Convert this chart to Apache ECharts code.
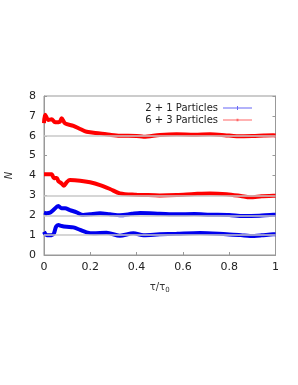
<!DOCTYPE html>
<html><head><meta charset="utf-8">
<script src="https://cdn.jsdelivr.net/npm/echarts@6/dist/echarts.min.js"></script>
<style>html,body{margin:0;padding:0;background:#fff}#c{width:298px;height:385px}</style>
</head><body><div id="c"></div>
<script>
const xTicks = [0, 0.2, 0.4, 0.6, 0.8, 1];
const yTicks = [0, 1, 2, 3, 4, 5, 6, 7, 8];
const refLevels = [1, 2, 3, 6];

const red6X = [0, 0.005, 0.019, 0.033, 0.048, 0.069, 0.076, 0.091, 0.127, 0.156, 0.184, 0.242, 0.285, 0.328, 0.4, 0.43, 0.5, 0.573, 0.65, 0.717, 0.78, 0.832, 0.9, 0.95, 0.99, 1];
const red6Y = [6.64, 7.06, 6.79, 6.83, 6.68, 6.71, 6.88, 6.62, 6.5, 6.34, 6.2, 6.12, 6.05, 6.0, 5.99, 5.95, 6.04, 6.08, 6.05, 6.07, 6.03, 5.98, 5.99, 6.01, 6.02, 6.01];

const red3X = [0, 0.033, 0.043, 0.055, 0.062, 0.076, 0.086, 0.098, 0.112, 0.156, 0.199, 0.242, 0.285, 0.328, 0.4, 0.43, 0.5, 0.573, 0.65, 0.717, 0.789, 0.85, 0.89, 0.94, 0.99, 1];
const red3Y = [4.06, 4.06, 3.86, 3.88, 3.72, 3.6, 3.49, 3.66, 3.77, 3.74, 3.66, 3.52, 3.32, 3.1, 3.03, 3.02, 3.0, 3.02, 3.07, 3.1, 3.06, 2.97, 2.9, 2.95, 2.98, 2.98];

const blue2X = [0, 0.012, 0.026, 0.04, 0.062, 0.076, 0.091, 0.112, 0.141, 0.169, 0.199, 0.242, 0.285, 0.328, 0.38, 0.415, 0.5, 0.573, 0.65, 0.717, 0.8, 0.861, 0.93, 0.99, 1];
const blue2Y = [2.13, 2.1, 2.13, 2.26, 2.46, 2.35, 2.35, 2.26, 2.15, 2.01, 2.05, 2.1, 2.05, 2.0, 2.07, 2.11, 2.08, 2.05, 2.06, 2.03, 2.01, 1.96, 1.98, 2.03, 2.03];

const blue1X = [0, 0.004, 0.012, 0.033, 0.043, 0.052, 0.062, 0.076, 0.098, 0.127, 0.156, 0.184, 0.213, 0.27, 0.328, 0.386, 0.43, 0.5, 0.573, 0.674, 0.789, 0.85, 0.89, 0.94, 0.99, 1];
const blue1Y = [1.17, 1.09, 1.0, 1.0, 1.09, 1.42, 1.51, 1.46, 1.42, 1.39, 1.26, 1.14, 1.09, 1.12, 0.97, 1.09, 1.0, 1.04, 1.07, 1.11, 1.04, 1.0, 0.96, 0.99, 1.04, 1.04];

const RED = '#ff0000', BLUE = '#0000ee';
const zip = (xs, ys) => xs.map((x, i) => [x, ys[i]]);

function lineSeries(name, color, xs, ys, extra) {
  return Object.assign({
    name: name, type: 'line', data: zip(xs, ys), showSymbol: false,
    symbol: 'circle', symbolSize: 3, smooth: 0.3,
    lineStyle: { color: color, width: 4 }, itemStyle: { color: color },
    z: 3
  }, extra || {});
}

const chart = echarts.init(document.getElementById('c'), null, { renderer: 'canvas' });
chart.setOption({
  animation: false,
  backgroundColor: '#fff',
  textStyle: { fontFamily: 'DejaVu Sans' },
  grid: { left: 44, right: 22.5, top: 96, bottom: 130, show: true, borderColor: '#999', borderWidth: 1, containLabel: false, outerBoundsMode: 'none' },
  legend: {
    right: 41, top: 98, orient: 'vertical', align: 'right', itemGap: 2,
    itemWidth: 29, itemHeight: 8,
    textStyle: { fontSize: 10, color: '#222', fontFamily: 'DejaVu Sans' },
    data: [
      { name: '2 + 1 Particles', icon: 'path://M0,4.6 L30,4.6 L30,5.4 L0,5.4 Z M14.5,3 L15.5,3 L15.5,7 L14.5,7 Z', itemStyle: { color: BLUE, opacity: 0.6 } },
      { name: '6 + 3 Particles', icon: 'path://M0,4.6 L30,4.6 L30,5.4 L0,5.4 Z M14,3.8 L16,3.8 L16,6.2 L14,6.2 Z', itemStyle: { color: RED, opacity: 0.6 } }
    ]
  },
  xAxis: {
    type: 'value', min: 0, max: 1, interval: 0.2,
    name: 'τ/τ{s|0}', nameLocation: 'middle', nameGap: 26,
    nameTextStyle: { fontSize: 10, color: '#333', rich: { s: { fontSize: 7, verticalAlign: 'bottom', padding: [6, 0, 0, 0], color: '#333' } } },
    axisLine: { lineStyle: { color: '#999' } },
    axisTick: { inside: true, length: 3, lineStyle: { color: '#999' } },
    axisLabel: { fontSize: 11, color: '#222', margin: 7, formatter: v => String(+v.toFixed(1)) },
    splitLine: { show: false }
  },
  yAxis: [{
    type: 'value', min: 0, max: 8, interval: 1,
    name: 'N', nameLocation: 'middle', nameGap: 30,
    nameTextStyle: { fontSize: 10, color: '#333', fontStyle: 'italic' },
    axisLine: { show: true, lineStyle: { color: '#999' } },
    axisTick: { show: true, inside: true, length: 3, lineStyle: { color: '#999' } },
    axisLabel: { fontSize: 11, color: '#222', margin: 8 },
    splitLine: { show: false }
  }, {
    type: 'value', min: 0, max: 8, interval: 1, position: 'right',
    axisLine: { show: true, lineStyle: { color: '#999' } },
    axisTick: { show: true, inside: true, length: 3, lineStyle: { color: '#999' } },
    axisLabel: { show: false }, splitLine: { show: false }
  }],
  series: [
    lineSeries('2 + 1 Particles', BLUE, blue2X, blue2Y, {
      markLine: {
        silent: true, symbol: 'none', label: { show: false },
        lineStyle: { color: '#c8c8c8', width: 1.5, type: 'solid' },
        data: refLevels.map(v => ({ yAxis: v }))
      }
    }),
    lineSeries('2 + 1 Particles', BLUE, blue1X, blue1Y),
    lineSeries('6 + 3 Particles', RED, red6X, red6Y),
    lineSeries('6 + 3 Particles', RED, red3X, red3Y)
  ]
});
</script></body></html>
